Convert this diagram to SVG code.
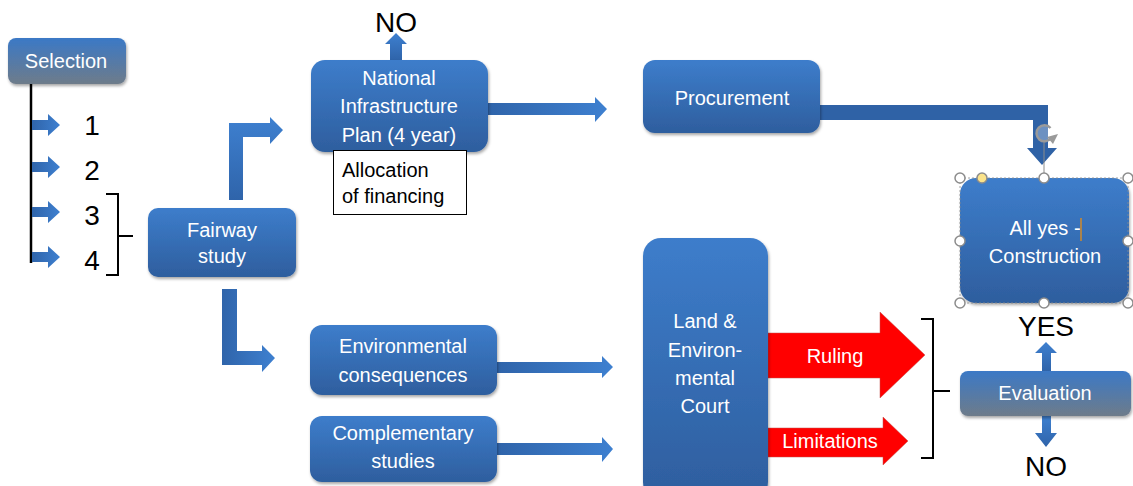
<svg xmlns="http://www.w3.org/2000/svg" width="1133" height="486" viewBox="0 0 1133 486">
<style>
.t{font-family:"Liberation Sans",Arial,sans-serif;font-size:20px;fill:#fff;text-anchor:middle}
.k{font-family:"Liberation Sans",Arial,sans-serif;font-size:20px;fill:#000}
.big{font-family:"Liberation Sans",Arial,sans-serif;font-size:28px;fill:#000;text-anchor:middle}
.box{fill:url(#bg);filter:url(#sh)}
.gbox{fill:url(#gg);filter:url(#sh)}
.ah{fill:url(#ag)}
.av{fill:url(#avg)}
.red{fill:#ff0000;stroke:#c0504d;stroke-width:0.5}
.br{fill:none;stroke:#000;stroke-width:2}
.hd{fill:#fff;stroke:#8c8c8c;stroke-width:1.5}
</style>
<defs>
<linearGradient id="bg" x1="0" y1="0" x2="0" y2="1"><stop offset="0" stop-color="#3d7dcb"/><stop offset="1" stop-color="#2e5e9e"/></linearGradient>
<linearGradient id="gg" x1="0" y1="0" x2="0" y2="1"><stop offset="0" stop-color="#3b79c6"/><stop offset="1" stop-color="#6e7b8a"/></linearGradient>
<linearGradient id="ag" x1="0" y1="0" x2="1" y2="0"><stop offset="0" stop-color="#2f64aa"/><stop offset="1" stop-color="#3e80d0"/></linearGradient>
<linearGradient id="avg" x1="0" y1="0" x2="0" y2="1"><stop offset="0" stop-color="#3e80d0"/><stop offset="1" stop-color="#2f64aa"/></linearGradient>
<filter id="sh" x="-10%" y="-10%" width="130%" height="130%"><feDropShadow dx="1" dy="2" stdDeviation="1.5" flood-color="#000" flood-opacity="0.35"/></filter>
</defs>

<g id="connectors">
  <!-- selection list -->
  <line x1="31" y1="84" x2="31" y2="263" stroke="#000" stroke-width="2.5"/>
  <polygon class="ah" points="32,120 48,120 48,114 60,125 48,136 48,130 32,130"/>
  <polygon class="ah" points="32,162 48,162 48,156 60,167 48,178 48,172 32,172"/>
  <polygon class="ah" points="32,207 48,207 48,201 60,212 48,223 48,217 32,217"/>
  <polygon class="ah" points="32,252 48,252 48,246 60,257 48,268 48,262 32,262"/>
  <path class="br" d="M106,194 H118 V275 H106 M118,236 H133"/>
  <!-- fairway up-right -->
  <polygon class="av" points="229,200 229,123 270,123 270,117 283,130 270,144 270,137 243,137 243,200"/>
  <!-- fairway down-right -->
  <polygon class="ah" points="222,289 237,289 237,351 262,351 262,345 275,358 262,372 262,365 222,365"/>
  <!-- NIP up to NO -->
  <polygon class="av" points="390,60 390,44 385,44 396,33 407,44 402,44 402,60"/>
  <!-- NIP to procurement -->
  <polygon class="ah" points="487,103 595,103 595,97 607,109 595,122 595,115 487,115"/>
  <!-- procurement to construction -->
  <polygon fill="#2f62a6" points="820,105 1048,105 1048,148 1057,148 1042,165 1027,148 1033,148 1033,120 820,120"/>
  <!-- env consequences to court -->
  <polygon class="ah" points="497,362 602,362 602,356 613,367 602,378 602,373 497,373"/>
  <!-- complementary to court -->
  <polygon class="ah" points="497,443 602,443 602,437 613,449 602,462 602,455 497,455"/>
  <!-- red arrows -->
  <polygon class="red" points="768,333 880,333 880,312 925,355 880,398 880,378 768,378"/>
  <polygon class="red" points="768,428 883,428 883,417 908,441 883,465 883,457 768,457"/>
  <path class="br" d="M921,319 H933 V458 H921 M933,391 H950"/>
  <!-- evaluation yes/no -->
  <polygon class="av" points="1042,371 1042,353 1035,353 1046,342 1057,353 1051,353 1051,371"/>
  <polygon class="av" points="1042,416 1042,433 1035,433 1046,447 1057,433 1051,433 1051,416"/>
</g>

<g id="selection">
  <rect class="gbox" x="8" y="38" width="118" height="46" rx="8"/>
  <text class="t" x="66" y="68">Selection</text>
</g>
<g id="numbers">
  <text class="big" x="92" y="135">1</text>
  <text class="big" x="92" y="180">2</text>
  <text class="big" x="92" y="225">3</text>
  <text class="big" x="92" y="270">4</text>
</g>
<g id="fairway">
  <rect class="box" x="148" y="208" width="148" height="69" rx="10"/>
  <text class="t" x="222" y="237">Fairway</text>
  <text class="t" x="222" y="263">study</text>
</g>
<g id="nip">
  <rect class="box" x="311" y="60" width="177" height="92" rx="14"/>
  <text class="t" x="399" y="85">National</text>
  <text class="t" x="399" y="113">Infrastructure</text>
  <text class="t" x="399" y="142">Plan (4 year)</text>
</g>
<g id="no-top">
  <text class="big" x="396" y="32">NO</text>
</g>
<g id="allocation">
  <rect x="333.5" y="150.5" width="133" height="64" fill="#fff" stroke="#000" stroke-width="1"/>
  <text class="k" x="342" y="177">Allocation</text>
  <text class="k" x="342" y="203">of financing</text>
</g>
<g id="procurement">
  <rect class="box" x="643" y="60" width="177" height="73" rx="12"/>
  <text class="t" x="732" y="105">Procurement</text>
</g>
<g id="construction">
  <rect class="box" x="960" y="178" width="169" height="125" rx="16"/>
  <text class="t" x="1045" y="235">All yes -</text>
  <line x1="1081" y1="218" x2="1081" y2="241" stroke="#d08a2a" stroke-width="1.5"/>
  <text class="t" x="1045" y="263">Construction</text>
  <rect x="960" y="178" width="168" height="125" fill="none" stroke="#8c8c8c" stroke-width="0.8" stroke-dasharray="2,2"/>
  <line x1="1044" y1="141" x2="1044" y2="178" stroke="#8c8c8c" stroke-width="1"/>
  <path d="M1050.5,128 A8,8 0 1 0 1051,138" fill="#fff" fill-opacity="0.3" stroke="#9a9a9a" stroke-width="2.5"/>
  <polygon points="1047,137 1058,134 1053,144" fill="#9a9a9a"/>
  <circle class="hd" cx="960" cy="178" r="5"/>
  <circle cx="982" cy="178" r="5" fill="#fbe38a" stroke="#8c8c8c" stroke-width="1.5"/>
  <circle class="hd" cx="1044" cy="178" r="5"/>
  <circle class="hd" cx="1128" cy="178" r="5"/>
  <circle class="hd" cx="960" cy="241" r="5"/>
  <circle class="hd" cx="1128" cy="241" r="5"/>
  <circle class="hd" cx="960" cy="303" r="5"/>
  <circle class="hd" cx="1044" cy="303" r="5"/>
  <circle class="hd" cx="1128" cy="303" r="5"/>
</g>
<g id="env">
  <rect class="box" x="310" y="325" width="187" height="70" rx="12"/>
  <text class="t" x="403" y="353">Environmental</text>
  <text class="t" x="403" y="382">consequences</text>
</g>
<g id="complementary">
  <rect class="box" x="310" y="416" width="187" height="66" rx="12"/>
  <text class="t" x="403" y="440">Complementary</text>
  <text class="t" x="403" y="468">studies</text>
</g>
<g id="court">
  <rect class="box" x="643" y="238" width="125" height="262" rx="18"/>
  <text class="t" x="705" y="328">Land &amp;</text>
  <text class="t" x="705" y="357">Environ-</text>
  <text class="t" x="705" y="385">mental</text>
  <text class="t" x="705" y="413">Court</text>
</g>
<g id="ruling">
  <text class="t" x="835" y="363">Ruling</text>
</g>
<g id="limitations">
  <text class="t" x="830" y="448">Limitations</text>
</g>
<g id="evaluation">
  <rect class="gbox" x="960" y="371" width="171" height="45" rx="8"/>
  <text class="t" x="1045" y="400">Evaluation</text>
</g>
<g id="yes-no">
  <text class="big" x="1046" y="336">YES</text>
  <text class="big" x="1046" y="476">NO</text>
</g>
</svg>
